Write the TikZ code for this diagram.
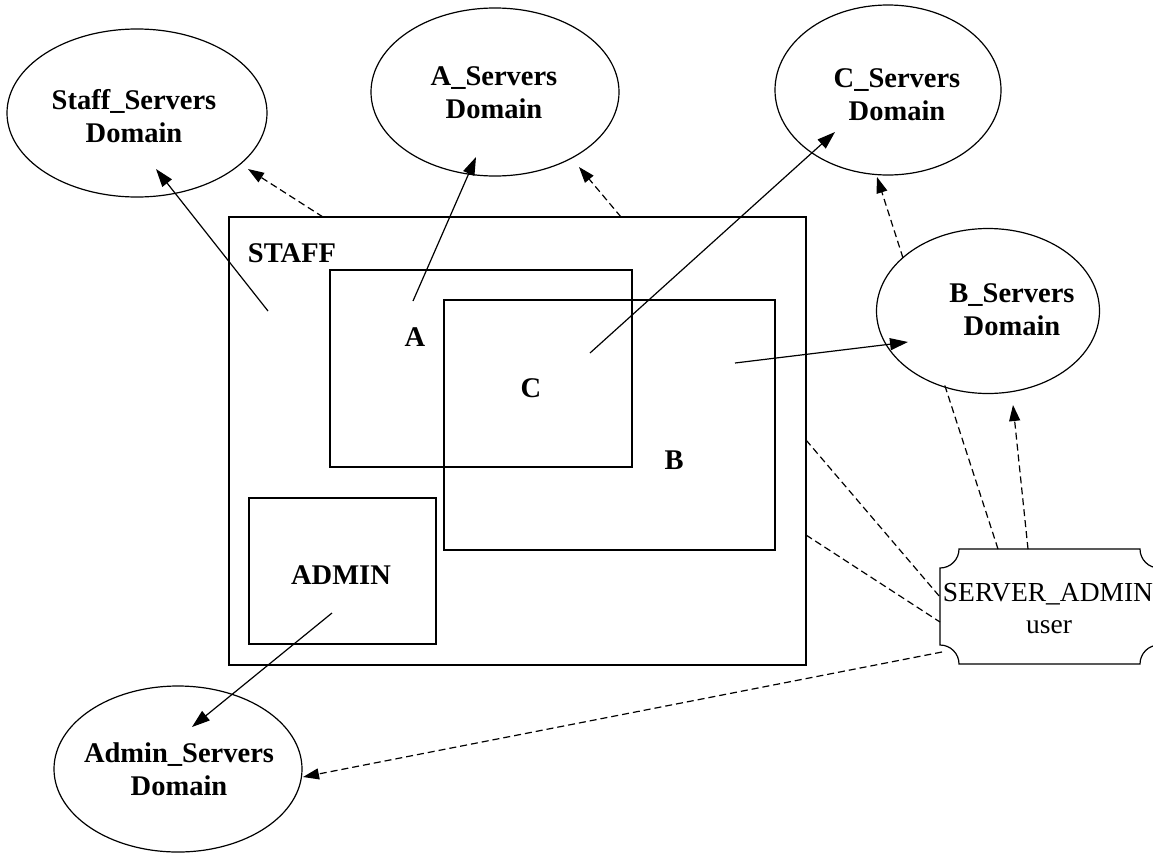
\documentclass[tikz,border=0pt]{standalone}
\usepackage{fontspec}
\setmainfont{Liberation Serif}
\usetikzlibrary{shapes.geometric,arrows.meta,calc}

\begin{document}
\begin{tikzpicture}[x=1pt,y=-1pt,
  line width=1.2pt,
  every node/.style={inner sep=0pt,outer sep=0pt},
  srvdom/.style args={#1/#2}{draw,ellipse,minimum width=#1pt,minimum height=#2pt},
  zone/.style args={#1/#2}{draw,rectangle,anchor=north west,minimum width=#1pt,minimum height=#2pt},
  boldlbl/.style={font=\fontsize{28.5}{33}\selectfont\bfseries,align=center},
  plainlbl/.style={font=\fontsize{27.5}{32}\selectfont},
  link/.style={-{Triangle[length=18pt,width=12pt]}},
  dlink/.style={dash pattern=on 7pt off 4pt,-{Triangle[length=16pt,width=11pt]}},
  dline/.style={dash pattern=on 7pt off 4pt}]

% canvas
\fill[white] (0,0) rectangle (1153,854);
\useasboundingbox (0,0) rectangle (1153,854);

% server domains
\node[srvdom=260/168] (staffdom) at (137,113) {};
\node[srvdom=248/168] (adom)     at (495,92)  {};
\node[srvdom=226/170] (cdom)     at (888,90)  {};
\node[srvdom=223/165] (bdom)     at (988,311) {};
\node[srvdom=248/166] (admindom) at (178,769) {};

\node[boldlbl] (staffdom-txt) at (134,116.5) {Staff\_Servers\\Domain};
\node[boldlbl] (adom-txt)     at (494,92.5)  {A\_Servers\\Domain};
\node[boldlbl] (cdom-txt)     at (897,94.5)  {C\_Servers\\Domain};
\node[boldlbl] (bdom-txt)     at (1012,309.5) {B\_Servers\\Domain};
\node[boldlbl] (admindom-txt) at (179,769.5) {Admin\_Servers\\Domain};

% nested groups
\node[zone=577/448] (staff) at (229,217) {};
\node[zone=302/197] (arect) at (330,270) {};
\node[zone=331/250] (brect) at (444,300) {};
\node[zone=187/146] (admin) at (249,498) {};

\node[boldlbl,anchor=base] (staff-txt) at (292,262) {STAFF};
\node[boldlbl,anchor=base] (a-txt)     at (415,346) {A};
\node[boldlbl,anchor=base] (c-txt)     at (531,397) {C};
\node[boldlbl,anchor=base] (b-txt)     at (674,469) {B};
\node[boldlbl,anchor=base] (admin-txt) at (341,584) {ADMIN};

% server administrator user
\node[rectangle,minimum width=219pt,minimum height=115pt] (sa) at (1049.5,606.5) {};
\draw ($(sa.north west)+(19pt,0pt)$) -- ($(sa.north east)+(-19pt,0pt)$)
  arc[start angle=180,end angle=270,radius=19pt]
  -- ($(sa.south east)+(0pt,19pt)$)
  arc[start angle=90,end angle=180,radius=19pt]
  -- ($(sa.south west)+(19pt,0pt)$)
  arc[start angle=0,end angle=90,radius=19pt]
  -- ($(sa.north west)+(0pt,-19pt)$)
  arc[start angle=270,end angle=360,radius=19pt] -- cycle;
\node[plainlbl,anchor=base] (sa-txt1) at (1048,601) {SERVER\_ADMIN};
\node[plainlbl,anchor=base] (sa-txt2) at (1049,633) {user};

% connector end points
\coordinate (p-staff) at (268,311);
\coordinate (p-a) at (413,301);
\coordinate (p-c) at (590,353);
\coordinate (p-b) at (735,363);
\coordinate (p-admin) at (332,613);
\coordinate (t-staff) at (156,169);
\coordinate (t-a) at (476,157);
\coordinate (t-c) at (835,132);
\coordinate (t-b) at (908,342);
\coordinate (t-admin) at (192,727);

\coordinate (staff-n1) at (323,217);
\coordinate (staff-n2) at (621,217);
\coordinate (staff-e1) at (806,440);
\coordinate (staff-e2) at (806,535);
\coordinate (staffdom-se) at (248,169);
\coordinate (adom-se) at (579,167);
\coordinate (bdom-nw) at (903,258);
\coordinate (cdom-s) at (877,177);
\coordinate (bdom-s) at (1013,405);
\coordinate (bdom-sw) at (944,383);
\coordinate (sa-n1) at (998,549);
\coordinate (sa-n2) at (1028,549);
\coordinate (sa-w1) at (940,597);
\coordinate (sa-w2) at (940,622);
\coordinate (sa-sw) at (942,652);
\coordinate (admindom-e) at (303,777);

% memberships
\draw[link] (p-staff) -- (t-staff);
\draw[link] (p-a) -- (t-a);
\draw[link] (p-c) -- (t-c);
\draw[link] (p-b) -- (t-b);
\draw[link] (p-admin) -- (t-admin);

% administration relations
\draw[dlink] (staff-n1) -- (staffdom-se);
\draw[dlink] (staff-n2) -- (adom-se);
\draw[dlink] (bdom-nw) -- (cdom-s);
\draw[dlink] (sa-n2) -- (bdom-s);
\draw[dline] (sa-n1) -- (bdom-sw);
\draw[dline] (staff-e1) -- (sa-w1);
\draw[dline] (staff-e2) -- (sa-w2);
\draw[dlink] (sa-sw) -- (admindom-e);

\end{tikzpicture}
\end{document}
